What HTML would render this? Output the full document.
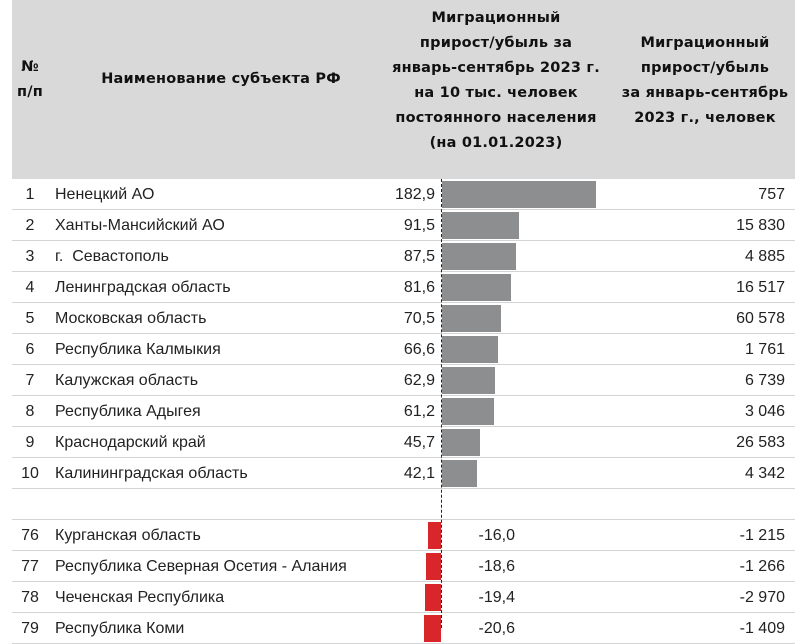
<!DOCTYPE html>
<html><head><meta charset="utf-8"><style>
body{margin:0;width:812px;height:628px;overflow:hidden;background:#fff;font-family:"Liberation Sans",sans-serif;position:relative;color:#222}
.hd{position:absolute;left:12px;top:0;width:783px;height:179px;background:#d9d9d9}
.h{position:absolute;font-family:"DejaVu Sans","Liberation Sans",sans-serif;font-weight:bold;font-size:14.5px;letter-spacing:0.2px;line-height:25px;text-align:center;color:#111;white-space:nowrap}
.row{position:absolute;left:12px;width:783px;height:31px;border-bottom:1px solid #d4d4d4;box-sizing:border-box;font-size:16px}
.row span{position:absolute;top:6px;line-height:19px;white-space:nowrap}
.n{left:0;width:36px;text-align:center}
.nm{left:43px}
.v{right:360px;text-align:right}
.vn{left:420px;width:83px;text-align:right}
.t{right:10px;text-align:right}
.b{position:absolute;top:2px;height:27px}
.axis{position:absolute;left:441px;top:179px;height:449px;border-left:1px dashed #222}
</style></head><body>
<div class="hd"></div>
<div class="h" style="left:12px;width:36px;top:55px">№<br>п/п</div>
<div class="h" style="left:90px;width:262px;top:67px">Наименование субъекта РФ</div>
<div class="h" style="left:376px;width:240px;top:6px">Миграционный<br>прирост/убыль за<br>январь-сентябрь 2023 г.<br>на 10 тыс. человек<br>постоянного населения<br>(на 01.01.2023)</div>
<div class="h" style="left:610px;width:190px;top:31px">Миграционный<br>прирост/убыль<br>за январь-сентябрь<br>2023 г., человек</div>

<div class="row" style="top:179px"><span class="n">1</span><span class="nm">Ненецкий АО</span><span class="v">182,9</span><div class="b" style="left:430px;width:154px;background:#8c8e90"></div><span class="t">757</span></div>
<div class="row" style="top:210px"><span class="n">2</span><span class="nm">Ханты-Мансийский АО</span><span class="v">91,5</span><div class="b" style="left:430px;width:77px;background:#8c8e90"></div><span class="t">15 830</span></div>
<div class="row" style="top:241px"><span class="n">3</span><span class="nm">г.&nbsp; Севастополь</span><span class="v">87,5</span><div class="b" style="left:430px;width:74px;background:#8c8e90"></div><span class="t">4 885</span></div>
<div class="row" style="top:272px"><span class="n">4</span><span class="nm">Ленинградская область</span><span class="v">81,6</span><div class="b" style="left:430px;width:69px;background:#8c8e90"></div><span class="t">16 517</span></div>
<div class="row" style="top:303px"><span class="n">5</span><span class="nm">Московская область</span><span class="v">70,5</span><div class="b" style="left:430px;width:59px;background:#8c8e90"></div><span class="t">60 578</span></div>
<div class="row" style="top:334px"><span class="n">6</span><span class="nm">Республика Калмыкия</span><span class="v">66,6</span><div class="b" style="left:430px;width:56px;background:#8c8e90"></div><span class="t">1 761</span></div>
<div class="row" style="top:365px"><span class="n">7</span><span class="nm">Калужская область</span><span class="v">62,9</span><div class="b" style="left:430px;width:53px;background:#8c8e90"></div><span class="t">6 739</span></div>
<div class="row" style="top:396px"><span class="n">8</span><span class="nm">Республика Адыгея</span><span class="v">61,2</span><div class="b" style="left:430px;width:52px;background:#8c8e90"></div><span class="t">3 046</span></div>
<div class="row" style="top:427px"><span class="n">9</span><span class="nm">Краснодарский край</span><span class="v">45,7</span><div class="b" style="left:430px;width:38px;background:#8c8e90"></div><span class="t">26 583</span></div>
<div class="row" style="top:458px"><span class="n">10</span><span class="nm">Калининградская область</span><span class="v">42,1</span><div class="b" style="left:430px;width:35px;background:#8c8e90"></div><span class="t">4 342</span></div>
<div class="row" style="top:489px"></div>
<div class="row" style="top:520px"><span class="n">76</span><span class="nm">Курганская область</span><div class="b" style="left:416px;width:13px;background:#d9262b"></div><span class="vn">-16,0</span><span class="t">-1 215</span></div>
<div class="row" style="top:551px"><span class="n">77</span><span class="nm">Республика Северная Осетия - Алания</span><div class="b" style="left:414px;width:15px;background:#d9262b"></div><span class="vn">-18,6</span><span class="t">-1 266</span></div>
<div class="row" style="top:582px"><span class="n">78</span><span class="nm">Чеченская Республика</span><div class="b" style="left:413px;width:16px;background:#d9262b"></div><span class="vn">-19,4</span><span class="t">-2 970</span></div>
<div class="row" style="top:613px"><span class="n">79</span><span class="nm">Республика Коми</span><div class="b" style="left:412px;width:17px;background:#d9262b"></div><span class="vn">-20,6</span><span class="t">-1 409</span></div>
<div class="axis"></div>
</body></html>
